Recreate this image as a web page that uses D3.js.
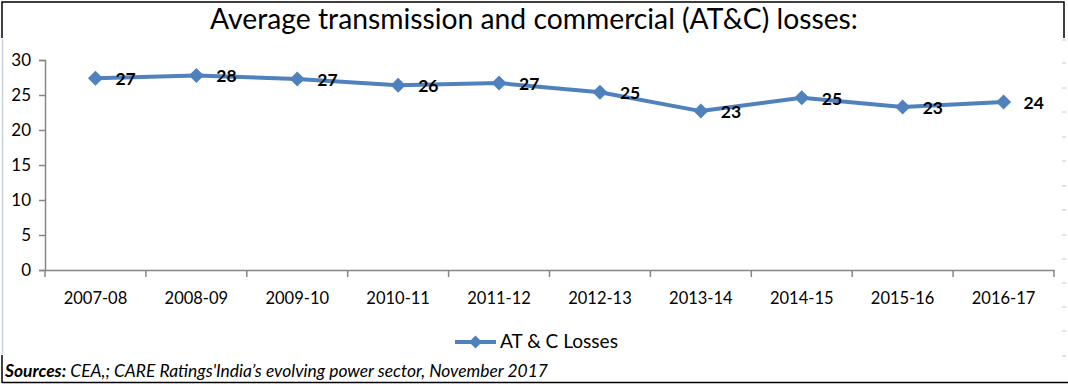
<!DOCTYPE html>
<html>
<head>
<meta charset="utf-8">
<script src="https://cdn.jsdelivr.net/npm/d3@7/dist/d3.min.js"></script>
<style>
  html, body { margin: 0; padding: 0; background: #fff; }
  svg { display: block; }
  text { font-family: Lato, "Open Sans", sans-serif; }
</style>
</head>
<body>
<svg id="chart" width="1068" height="384"></svg>
<script>
const categories = ["2007-08","2008-09","2009-10","2010-11","2011-12","2012-13","2013-14","2014-15","2015-16","2016-17"];
const losses = [27.4, 27.8, 27.3, 26.4, 26.7, 25.4, 22.7, 24.6, 23.3, 24.0];
const yTicks = [0, 5, 10, 15, 20, 25, 30];
const titleText = "Average transmission and commercial (AT&C) losses:";
const seriesName = "AT & C Losses";
const sourceLabel = "Sources:";
const sourceText = " CEA,; CARE Ratings'India\u2019s evolving power sector, November 2017";

const svg = d3.select("#chart");
const blue = "#4F81BD", axisCol = "#868686";

function fit(sel, target) {
  const w = sel.node().getComputedTextLength();
  const fs = parseFloat(sel.attr("font-size"));
  sel.attr("font-size", fs * target / w);
}

// frames (title box: top, left, right only)
svg.append("path").attr("d", "M2,38V2H1064V38")
  .attr("fill", "none").attr("stroke", "#000").attr("stroke-width", 1.5);
svg.append("line").attr("x1", 2.5).attr("x2", 2.5).attr("y1", 39).attr("y2", 354)
  .attr("stroke", "#c5cfdc").attr("stroke-width", 1.5);
svg.append("line").attr("x1", 2).attr("x2", 2).attr("y1", 355).attr("y2", 383)
  .attr("stroke", "#000").attr("stroke-width", 1.5);
svg.append("line").attr("x1", 2).attr("x2", 1068).attr("y1", 382.5).attr("y2", 382.5)
  .attr("stroke", "#000").attr("stroke-width", 1.5);
// faint right-edge marks
[40, 63, 88, 112, 137, 161, 186, 210, 235, 259, 283, 307, 331, 356].forEach(yy => {
  svg.append("line").attr("x1", 1062).attr("x2", 1066).attr("y1", yy).attr("y2", yy)
    .attr("stroke", "#c8c8c8").attr("stroke-width", 1);
});

// title
const t = svg.append("text").attr("x", 534).attr("y", 29).attr("text-anchor", "middle")
  .attr("font-size", 26).attr("fill", "#000").text(titleText);
fit(t, 648);

const x0 = 45, x1 = 1054;
const x = d3.scaleBand().domain(categories).range([x0, x1]);
const y = d3.scaleLinear().domain([0, 30]).range([270, 60]);

// y axis
const yAxis = svg.append("g").attr("transform", `translate(${x0},0)`)
  .call(d3.axisLeft(y).tickValues(yTicks).tickSize(6).tickPadding(8));
yAxis.select(".domain").attr("stroke", axisCol).attr("stroke-width", 1.5);
yAxis.selectAll(".tick line").attr("stroke", axisCol).attr("stroke-width", 1.5);
yAxis.selectAll(".tick text").attr("font-size", 17).attr("fill", "#000")
  .style("font-family", "Lato, sans-serif");

// x axis
const xAxis = svg.append("g").attr("transform", `translate(0,270)`)
  .call(d3.axisBottom(x).tickSize(0).tickPadding(22));
xAxis.select(".domain").attr("stroke", axisCol).attr("stroke-width", 1.5);
xAxis.selectAll(".tick text").attr("font-size", 16.5).attr("fill", "#000")
  .style("font-family", "Lato, sans-serif");
// boundary ticks
const bounds = categories.map(c => x(c)).concat([x1]);
svg.append("g").selectAll("line").data(bounds).join("line")
  .attr("x1", d => d).attr("x2", d => d).attr("y1", 270).attr("y2", 277)
  .attr("stroke", axisCol).attr("stroke-width", 1.5);

const cx = c => x(c) + x.bandwidth() / 2;
const pts = categories.map((c, i) => ({c, v: losses[i]}));

// line
const line = d3.line().x(d => cx(d.c)).y(d => y(d.v));
svg.append("path").datum(pts).attr("d", line).attr("fill", "none")
  .attr("stroke", blue).attr("stroke-width", 4).attr("stroke-linejoin", "round");

const diamond = (px, py, r) => `M${px},${py - r}L${px + r},${py}L${px},${py + r}L${px - r},${py}Z`;
svg.append("g").selectAll("path").data(pts).join("path")
  .attr("d", d => diamond(cx(d.c), y(d.v), 7.5)).attr("fill", blue);

// data labels
svg.append("g").selectAll("text").data(pts).join("text")
  .attr("x", d => cx(d.c) + 20)
  .attr("y", d => y(d.v) + 7)
  .attr("font-size", 17.5).attr("font-weight", "bold").attr("fill", "#000")
  .text(d => d3.format(".0f")(d.v));

// legend
const ly = 342;
svg.append("line").attr("x1", 455).attr("x2", 496).attr("y1", ly).attr("y2", ly)
  .attr("stroke", blue).attr("stroke-width", 4);
svg.append("path").attr("d", diamond(475.5, ly, 6.5)).attr("fill", blue);
const lt = svg.append("text").attr("x", 500).attr("y", ly + 6).attr("font-size", 17)
  .attr("fill", "#000").text(seriesName);
fit(lt, 118);

// source
const st = svg.append("text").attr("x", 5).attr("y", 377).attr("font-size", 15)
  .attr("font-style", "italic").attr("fill", "#000");
st.append("tspan").attr("font-weight", "bold").text(sourceLabel);
st.append("tspan").text(sourceText);
fit(st, 543);
</script>
</body>
</html>
